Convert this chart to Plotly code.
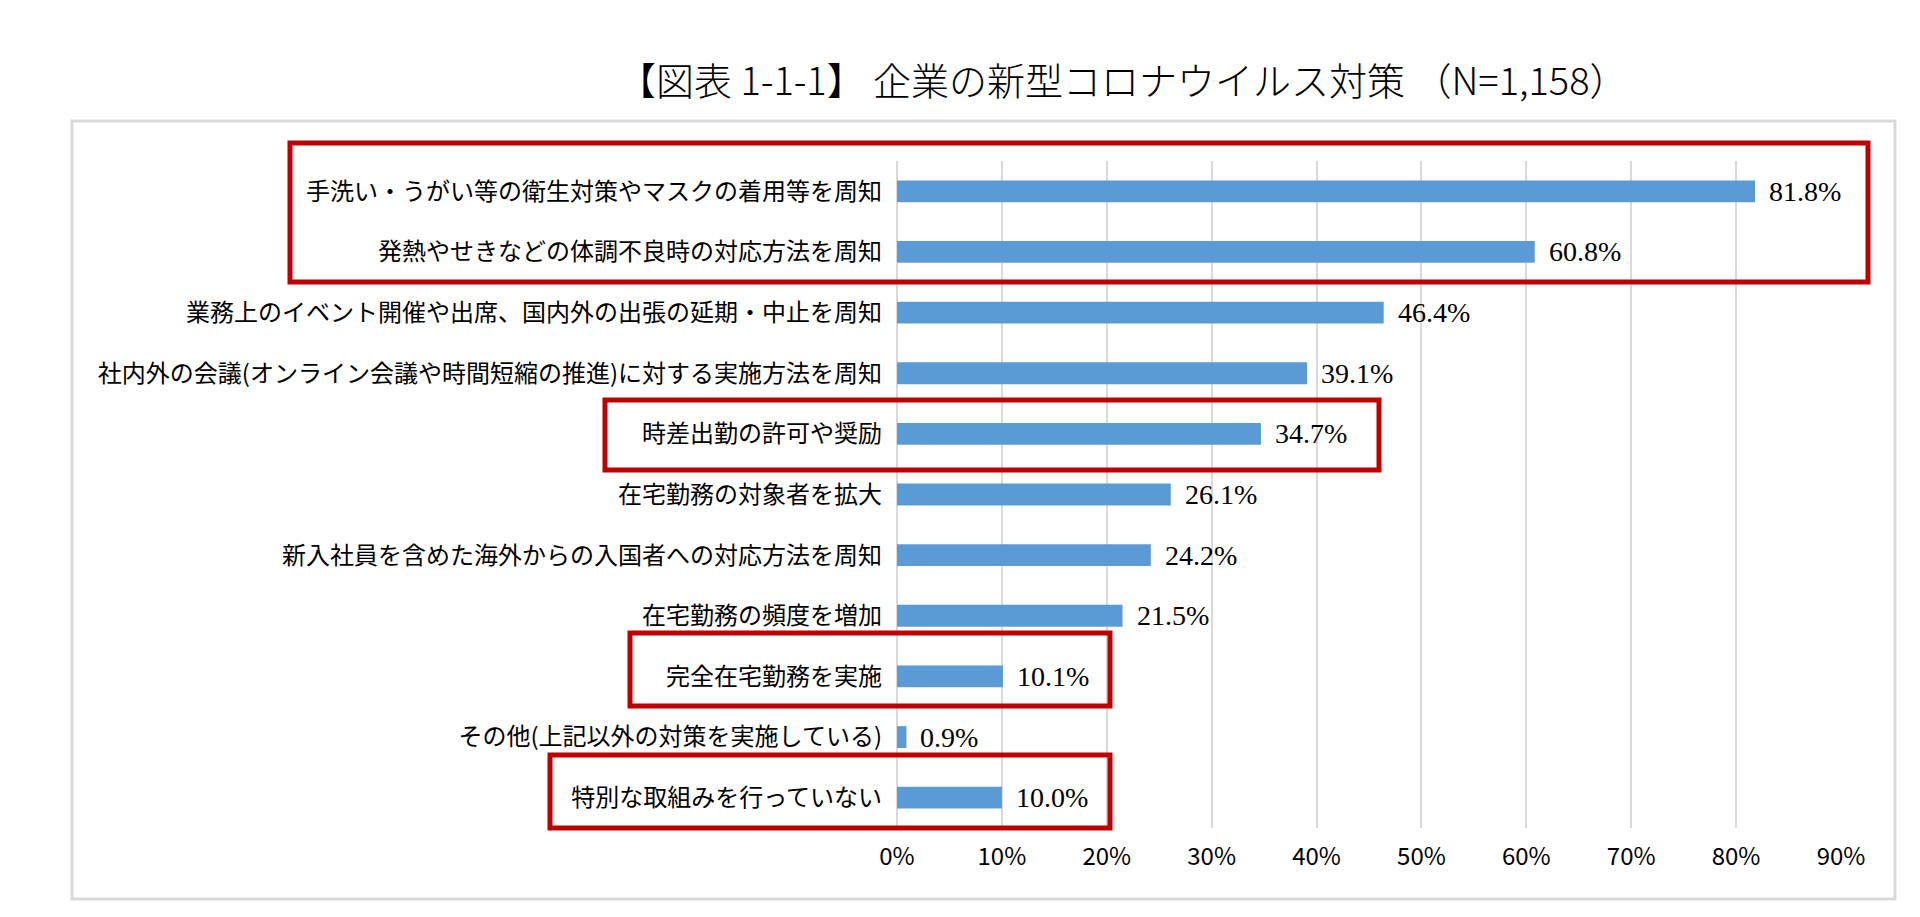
import plotly.graph_objects as go

# data
labels = [
    "手洗い・うがい等の衛生対策やマスクの着用等を周知",
    "発熱やせきなどの体調不良時の対応方法を周知",
    "業務上のイベント開催や出席、国内外の出張の延期・中止を周知",
    "社内外の会議(オンライン会議や時間短縮の推進)に対する実施方法を周知",
    "時差出勤の許可や奨励",
    "在宅勤務の対象者を拡大",
    "新入社員を含めた海外からの入国者への対応方法を周知",
    "在宅勤務の頻度を増加",
    "完全在宅勤務を実施",
    "その他(上記以外の対策を実施している)",
    "特別な取組みを行っていない",
]
values = [81.8, 60.8, 46.4, 39.1, 34.7, 26.1, 24.2, 21.5, 10.1, 0.9, 10.0]
x_ticks = [0, 10, 20, 30, 40, 50, 60, 70, 80, 90]
x_tick_text = ["0%", "10%", "20%", "30%", "40%", "50%", "60%", "70%", "80%", "90%"]
title_text = "【図表 1-1-1】 企業の新型コロナウイルス対策 （N=1,158）"

# page / plot area in pixels
W, H = 1920, 917
L, R, T, B = 889, 1833, 153, 820
PW, PH = R - L, B - T

def px_x(px):
    return (px - L) / PW

def px_y(py):
    return (B - py) / PH

JP = "Noto Sans CJK JP"
BLUE = "#5B9BD5"
RED = "#C00000"
GRID = "#D9D9D9"

fig = go.Figure()
fig.add_trace(go.Bar(
    x=values, y=labels, orientation="h",
    marker=dict(color=BLUE, line=dict(width=0)),
    hoverinfo="x+y",
))

# value labels right of each bar
for lab, v in zip(labels, values):
    fig.add_annotation(
        x=v, y=lab, text=f"{v:.1f}%", showarrow=False,
        xanchor="left", xshift=12,
        font=dict(family="Liberation Serif", size=28, color="black"),
    )

# outer frame
fig.add_shape(type="rect", xref="paper", yref="paper",
              x0=px_x(64), x1=px_x(1887), y0=px_y(891), y1=px_y(113),
              line=dict(color=GRID, width=3), layer="below")

# red highlight boxes (pixel boxes: left, top, right, bottom)
boxes = [
    (282, 135, 1860, 274),
    (597, 392, 1371, 462),
    (622, 625, 1102, 698),
    (542, 747, 1102, 820),
]
for x0, y0, x1, y1 in boxes:
    fig.add_shape(type="rect", xref="paper", yref="paper",
                  x0=px_x(x0), x1=px_x(x1), y0=px_y(y1), y1=px_y(y0),
                  line=dict(color=RED, width=5))

fig.add_annotation(
    x=px_x(1115), y=px_y(70), xref="paper", yref="paper",
    text=title_text, showarrow=False, xanchor="center", yanchor="middle",
    font=dict(family=JP, size=38, color="black", weight=300),
)

fig.update_layout(
    width=W, height=H,
    margin=dict(l=L, r=W - R, t=T, b=H - B, autoexpand=False),
    paper_bgcolor="white", plot_bgcolor="white",
    showlegend=False, bargap=0.64,
    font=dict(family=JP, color="black"),
)
fig.update_xaxes(
    range=[0, 90], tickmode="array", tickvals=x_ticks, ticktext=x_tick_text,
    showgrid=True, gridcolor=GRID, gridwidth=2,
    zeroline=True, zerolinecolor=GRID, zerolinewidth=2,
    showline=False, ticks="", ticklabelstandoff=12,
    tickfont=dict(family=JP, size=24, color="black"),
    automargin=False, fixedrange=True,
)
fig.update_yaxes(
    type="category", autorange="reversed",
    showgrid=False, zeroline=False, showline=False, ticks="",
    ticklabelstandoff=14,
    tickfont=dict(family=JP, size=24, color="black"),
    automargin=False, fixedrange=True,
)

fig.write_html("out.html")
